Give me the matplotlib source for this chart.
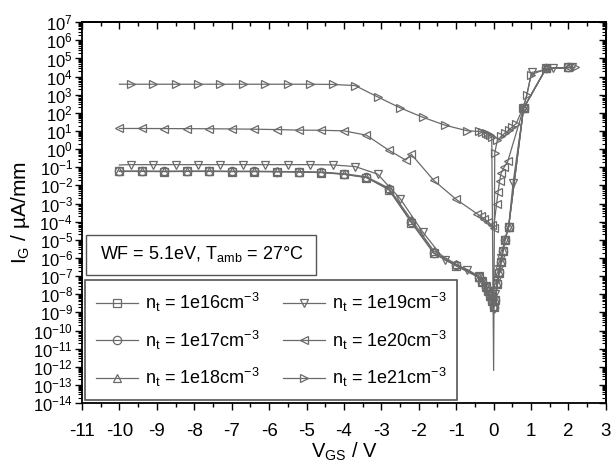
import numpy as np
import matplotlib
matplotlib.use("Agg")
import matplotlib.pyplot as plt
from matplotlib.ticker import LogLocator, MultipleLocator, NullFormatter
from matplotlib.patches import Rectangle

plt.rcParams["font.family"] = ["Liberation Sans", "DejaVu Sans"]
plt.rcParams["mathtext.fontset"] = "custom"
plt.rcParams["mathtext.rm"] = "Liberation Sans"
plt.rcParams["mathtext.it"] = "Liberation Sans:italic"
plt.rcParams["mathtext.bf"] = "Liberation Sans:bold"
plt.rcParams["mathtext.sf"] = "Liberation Sans"
plt.rcParams["mathtext.default"] = "regular"

# Gate voltage sweeps (V) and gate current (uA/mm) for each trap density
v_low = [-10, -9.4, -8.8, -8.2, -7.6, -7.0, -6.4, -5.8, -5.2, -4.6, -4.0, -3.4,
         -2.8, -2.2, -1.6, -1.0, -0.4, -0.3, -0.2, -0.15, -0.1, -0.05, 0.0,
         0.05, 0.1, 0.15, 0.2, 0.25, 0.3, 0.4, 0.8, 1.4, 2.0]

i_n16 = [5.9e-2, 5.9e-2, 5.8e-2, 5.9e-2, 5.9e-2, 5.8e-2, 5.8e-2, 5.7e-2, 5.5e-2,
         5.1e-2, 4.1e-2, 2.7e-2, 5.8e-3, 9.0e-5, 1.8e-6, 3.6e-7, 8.5e-8, 4.8e-8,
         2.4e-8, 1.5e-8, 8.5e-9, 4.3e-9, 1.9e-9, 4.8e-9, 3.8e-8, 1.5e-7, 6.0e-7,
         2.4e-6, 9.5e-6, 4.8e-5, 1.8e2, 2.8e4, 3.2e4]
i_n17 = [6.0e-2, 6.0e-2, 5.9e-2, 6.0e-2, 6.0e-2, 5.9e-2, 5.9e-2, 5.75e-2, 5.6e-2,
         5.2e-2, 4.2e-2, 2.8e-2, 6.3e-3, 1.0e-4, 2.0e-6, 4.0e-7, 8.9e-8, 5.0e-8,
         2.5e-8, 1.6e-8, 8.9e-9, 4.5e-9, 2.0e-9, 5.0e-9, 4.0e-8, 1.6e-7, 6.3e-7,
         2.5e-6, 1.0e-5, 5.0e-5, 1.8e2, 2.8e4, 3.2e4]
i_n18 = [6.1e-2, 6.1e-2, 6.0e-2, 6.1e-2, 6.1e-2, 6.0e-2, 6.0e-2, 5.9e-2, 5.7e-2,
         5.4e-2, 4.4e-2, 3.0e-2, 7.1e-3, 1.3e-4, 2.5e-6, 4.5e-7, 9.5e-8, 5.3e-8,
         2.7e-8, 1.7e-8, 9.5e-9, 4.8e-9, 2.2e-9, 5.3e-9, 4.2e-8, 1.7e-7, 6.6e-7,
         2.6e-6, 1.05e-5, 5.2e-5, 1.8e2, 2.8e4, 3.2e4]

v_n19 = [-10, -9.7, -9.1, -8.5, -7.9, -7.3, -6.7, -6.1, -5.5, -4.9, -4.3, -3.7,
         -3.1, -2.5, -1.9, -1.3, -0.7, -0.4, -0.3, -0.2, -0.15, -0.1, -0.05, 0.0,
         0.05, 0.1, 0.15, 0.2, 0.3, 0.4, 0.52, 0.8, 1.02, 1.58, 2.1]
i_n19 = [1.35e-1, 1.4e-1, 1.4e-1, 1.4e-1, 1.4e-1, 1.4e-1, 1.4e-1, 1.4e-1, 1.4e-1,
         1.4e-1, 1.35e-1, 1.1e-1, 4.2e-2, 1.9e-3, 2.8e-5, 7.6e-7, 2.3e-7, 1.0e-7,
         5.6e-8, 2.8e-8, 1.6e-8, 7.9e-9, 4.0e-9, 1.6e-9, 1.0e-8, 6.3e-8, 2.5e-7,
         1.0e-6, 1.0e-5, 5.0e-5, 1.4e-2, 1.8e2, 1.7e4, 2.8e4, 3.2e4]

v_n20 = [-10, -9.4, -8.8, -8.2, -7.6, -7.0, -6.4, -5.8, -5.2, -4.6, -4.0, -3.4,
         -2.8, -2.35, -2.2, -1.6, -1.0, -0.45, -0.35, -0.25, -0.15, -0.05, 0.0,
         0.08, 0.12, 0.16, 0.2, 0.28, 0.38, 0.8, 1.4, 2.0]
i_n20 = [13.8, 13.8, 13.6, 13.5, 13.3, 13.0, 12.6, 12.0, 11.2, 11.0, 10.2, 5.9,
         0.87, 0.25, 0.52, 1.9e-2, 1.7e-3, 2.8e-4, 2.0e-4, 1.4e-4, 1.0e-4, 6.3e-5,
         4.5e-5, 1.0e-3, 4.5e-3, 1.8e-2, 4.7e-2, 0.1, 0.22, 1.8e2, 2.8e4, 3.2e4]

v_n21 = [-10, -9.7, -9.1, -8.5, -7.9, -7.3, -6.7, -6.1, -5.5, -4.9, -4.3, -3.7,
         -3.1, -2.5, -1.9, -1.3, -0.7, -0.4, -0.3, -0.2, -0.15, -0.1, -0.05, 0.0,
         0.03, 0.1, 0.2, 0.3, 0.4, 0.5, 0.6, 0.78, 0.89, 1.0, 1.45, 2.17]
i_n21 = [3.8e3, 3.8e3, 3.8e3, 3.8e3, 3.8e3, 3.8e3, 3.8e3, 3.8e3, 3.8e3, 3.8e3,
         3.7e3, 3.2e3, 7.6e2, 1.9e2, 58, 21, 10.2, 9.5, 8.7, 7.6, 6.8, 5.8, 4.8,
         6.3e-13, 0.6, 3.2, 5.0, 7.6, 11, 17, 25, 1.8e2, 9.3e2, 1.3e4, 2.8e4, 3.2e4]

labels = [r"n$_t$ = 1e16cm$^{-3}$", r"n$_t$ = 1e17cm$^{-3}$", r"n$_t$ = 1e18cm$^{-3}$",
          r"n$_t$ = 1e19cm$^{-3}$", r"n$_t$ = 1e20cm$^{-3}$", r"n$_t$ = 1e21cm$^{-3}$"]
markers = ["s", "o", "^", "v", "<", ">"]

x_ticks = list(range(-11, 4))

fig = plt.figure(figsize=(6.12, 4.72), dpi=100)
ax = fig.add_axes([0.134, 0.146, 0.856, 0.807])

line_col = "#6a6a6a"
series = [
    (v_low, i_n16, None),
    (v_low, i_n17, None),
    (v_low, i_n18, None),
    (v_n19, i_n19, "skip_first"),
    (v_n20, i_n20, None),
    (v_n21, i_n21, "skip_first_dip"),
]
handles = []
for (v, cur, mode), mk, lab in zip(series, markers, labels):
    v_arr = np.asarray(v, dtype=float)
    c_arr = np.asarray(cur, dtype=float)
    idx = np.arange(len(v_arr))
    if mode == "skip_first":
        mevery = list(idx[1:])
    elif mode == "skip_first_dip":
        mevery = [int(i) for i in idx[1:] if v_arr[i] != 0.0]
    else:
        mevery = None
    h, = ax.plot(v_arr, c_arr, color=line_col, lw=0.9, marker=mk, ms=6,
                 mfc="none", mec=line_col, mew=0.9, markevery=mevery, label=lab)
    handles.append(h)

ax.set_yscale("log")
ax.set_xlim(-11, 3)
ax.set_ylim(1e-14, 1e7)
ax.set_xticks(x_ticks)
ax.set_xticklabels([str(t) for t in x_ticks])
ax.xaxis.set_minor_locator(MultipleLocator(0.5))
ax.yaxis.set_major_locator(LogLocator(base=10, numticks=40))
ax.yaxis.set_minor_locator(LogLocator(base=10, subs=np.arange(2, 10), numticks=40))
ax.yaxis.set_minor_formatter(NullFormatter())

ax.tick_params(axis="x", which="major", direction="out", length=5, width=1,
               labelsize=13.5, pad=9, top=False)
ax.tick_params(axis="x", which="minor", direction="out", length=3, width=1, top=False)
ax.tick_params(axis="y", which="major", direction="out", length=5, width=1,
               labelsize=12, pad=1.5, right=False)
ax.tick_params(axis="y", which="minor", direction="out", length=3, width=0.8, right=False)

for sp in ax.spines.values():
    sp.set_linewidth(1.3)

# mirrored axes with inward ticks
top = ax.secondary_xaxis("top")
top.set_xticks(x_ticks)
top.xaxis.set_minor_locator(MultipleLocator(0.5))
top.tick_params(which="major", direction="in", length=5, width=1, labeltop=False)
top.tick_params(which="minor", direction="in", length=3, width=1)
right = ax.secondary_yaxis("right")
right.yaxis.set_major_locator(LogLocator(base=10, numticks=40))
right.yaxis.set_minor_locator(LogLocator(base=10, subs=np.arange(2, 10), numticks=40))
right.yaxis.set_minor_formatter(NullFormatter())
right.tick_params(which="major", direction="in", length=5, width=1, labelright=False)
right.tick_params(which="minor", direction="in", length=3, width=0.8)
for s in (top, right):
    for sp in s.spines.values():
        sp.set_linewidth(1.3)

ax.set_xlabel(r"V$_{GS}$ / V", fontsize=14.5, labelpad=1)
ax.set_ylabel(r"I$_G$ / µA/mm", fontsize=15, labelpad=1)

# condition box
ax.add_patch(Rectangle((0.008, 0.336), 0.439, 0.105, transform=ax.transAxes,
                       fill=True, fc="white", ec="#555555", lw=1.0, zorder=5))
ax.text(0.034, 0.392, r"WF = 5.1eV, T$_{amb}$ = 27°C", transform=ax.transAxes,
        fontsize=13, va="center", ha="left", zorder=6)

leg = ax.legend(handles=handles, ncol=2, loc="lower left",
                bbox_to_anchor=(0.006, 0.008), borderaxespad=0,
                fontsize=13, handlelength=2.3, handletextpad=0.4,
                columnspacing=1.3, labelspacing=0.8, borderpad=0.6,
                fancybox=False, framealpha=1, edgecolor="#555555")
leg.get_frame().set_linewidth(1.2)

fig.savefig("out.png", dpi=100)
